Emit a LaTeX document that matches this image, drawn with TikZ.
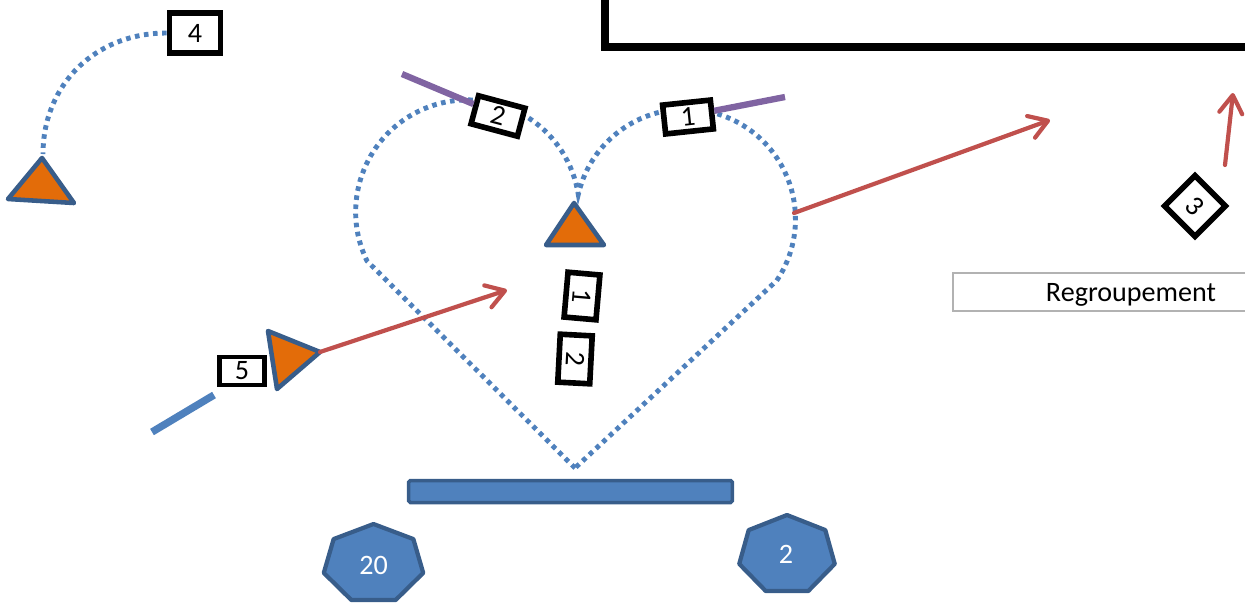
\documentclass[tikz,border=0pt]{standalone}
\usepackage{fontspec}
\setmainfont{Carlito}
\usetikzlibrary{arrows.meta, calc, positioning, shapes.geometric}
\definecolor{dotblue}{HTML}{4F81BD}
\definecolor{edgeblue}{HTML}{385D8A}
\definecolor{runred}{HTML}{C0504D}
\definecolor{passpurple}{HTML}{8064A2}
\definecolor{coneorange}{HTML}{E36C09}
\tikzset{
    dotpath/.style={dotblue, line width=2.8pt, dash pattern=on 2.6pt off 2.6pt},
    runarrow/.style={runred, line width=2.4pt, line cap=round,
        -{Straight Barb[length=0.36cm, width=0.46cm, round]}},
    passline/.style={passpurple, line width=3.6pt},
    blueline/.style={dotblue, line width=4.2pt},
    cone/.style={fill=coneorange, draw=edgeblue, line width=2.6pt, line join=round}
}
\tikzset{
    numbox/.style={draw, fill=white, line width=3.2pt, inner sep=0pt,
        minimum width=0.96cm, minimum height=0.58cm, font=\fontsize{16}{18}\selectfont},
    hepta/.style={fill=dotblue, draw=edgeblue, line width=2.4pt, line join=round},
    hepnum/.style={text=white, font=\fontsize{16}{18}\selectfont},
    bench/.style={fill=dotblue, draw=edgeblue, line width=2pt, rounded corners=1pt,
        minimum width=6.48cm, minimum height=0.44cm, inner sep=0pt},
    regbox/.style={draw=black!30, line width=1pt, minimum width=7.12cm, text depth=0pt,
        minimum height=0.76cm, font=\fontsize{16}{18}\selectfont},
    topframe/.style={draw, line width=4pt}
}
\begin{document}
\begin{tikzpicture}[x=0.02cm, y=-0.02cm]
    \useasboundingbox (0,0) rectangle (1245,603);
    \clip (0,0) rectangle (1245,603);
    \draw[topframe] (605,-20) rectangle (1320,47);
    % heart
    \coordinate (hb) at (575,468);
    \coordinate (hr) at (794,213);
    \draw[dotpath] (hb) -- (367,261) arc (154:351:112) arc (193:394:110) -- cycle;
    \coordinate (pl) at (402,74);
    \coordinate (pr) at (785,97);
    \node[numbox, rotate=-15] (n2) at (498,116) {2};
    \node[numbox, rotate=6] (n1) at (688,117) {1};
    \draw[passline] (pl) -- ($(n2.north west)!0.35!(n2.south west)$);
    \draw[passline] ($(n1.north east)!0.4!(n1.south east)$) -- (pr);
    % cones
    \coordinate (c1) at (574,203);
    \draw[cone] (c1) -- (604,245) -- (546,245) -- cycle;
    \coordinate (c2) at (42,158);
    \draw[cone] (c2) -- (74,203) -- (8,199) -- cycle;
    \coordinate (c5) at (320,352);
    \draw[cone] (c5) -- (277,389) -- (268,331) -- cycle;
    % start
    \node[numbox, minimum width=1.02cm, minimum height=0.8cm] (n4) at (195,33) {4};
    \draw[dotpath] (n4.west) .. controls (95,33) and (43,85) .. (43,154);
    \node[numbox, minimum width=0.9cm, minimum height=0.56cm, line width=2.8pt] (n5) at (242,371) {5};
    \coordinate (b5a) at (152,432);
    \coordinate (b5b) at (214,395);
    \draw[blueline] (b5a) -- (b5b);
    \node[numbox, rotate=-95, minimum width=0.9cm, minimum height=0.64cm] (v1) at (582,296) {1};
    \node[numbox, rotate=-93, minimum width=0.96cm, minimum height=0.64cm] (v2) at (575,359) {2};
    \node[numbox, rotate=-45, minimum width=0.86cm, minimum height=0.86cm] (n3) at (1195,206) {3};
    % runs
    \coordinate (r1) at (1050,120);
    \coordinate (r2) at (507,290);
    \coordinate (r3a) at (1225,165);
    \coordinate (r3b) at (1233,93);
    \draw[runarrow] (hr) -- (r1);
    \draw[runarrow] (c5) -- (r2);
    \draw[runarrow] (r3a) -- (r3b);
    \node[regbox] (regroup) at (1131,292) {Regroupement};
    % bench and markers
    \node[bench] (bar) at (570.5,491.5) {};
    \begin{scope}[shift={(373.5,564)}]
    \draw[hepta] (270:51 and 40) \foreach \k in {1,...,6}{ -- ({270+\k*360/7}:51 and 40)} -- cycle;
    \end{scope}
    \begin{scope}[shift={(787,555)}]
    \draw[hepta] (270:49 and 40) \foreach \k in {1,...,6}{ -- ({270+\k*360/7}:49 and 40)} -- cycle;
    \end{scope}
    \node[hepnum] (h20) at (373.5,565) {20};
    \node[hepnum] (h2) at (786,554) {2};
\end{tikzpicture}
\end{document}
